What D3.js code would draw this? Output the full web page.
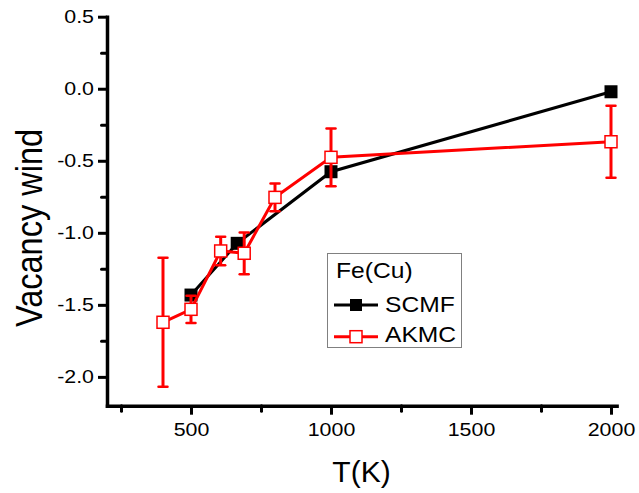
<!DOCTYPE html>
<html>
<head>
<meta charset="utf-8">
<script src="https://cdn.jsdelivr.net/npm/d3@7"></script>
<style>
  html, body { margin: 0; padding: 0; background: #fff; }
  svg { display: block; font-family: "Liberation Sans", Arial, sans-serif; }
</style>
</head>
<body>
<svg id="chart" width="639" height="493"></svg>
<script>
// SCMF results (no error bars)
const scmfT = [500, 665, 1000, 2000];
const scmfV = [-1.432, -1.073, -0.576, -0.021];

// AKMC results with symmetric error bars
const akmcT = [400, 500, 606, 690, 800, 1000, 2000];
const akmcV = [-1.621, -1.531, -1.126, -1.142, -0.754, -0.476, -0.368];
const akmcErr = [0.448, 0.095, 0.099, 0.145, 0.097, 0.2, 0.25];

const xMajor = [500, 1000, 1500, 2000];
const xMinor = [250, 750, 1250, 1750];
const yMajor = [0.5, 0.0, -0.5, -1.0, -1.5, -2.0];
const yMinor = [0.25, -0.25, -0.75, -1.25, -1.75];

const legendTitle = "Fe(Cu)";
const seriesNames = ["SCMF", "AKMC"];

const svg = d3.select("#chart");
const X0 = 107, X1 = 616.6, Y0 = 405.7, Y1 = 16.7;
const x = d3.scaleLinear().domain([200, 2020]).range([X0, X1]);
const y = d3.scaleLinear().domain([-2.2, 0.5]).range([Y0, Y1]);

const TICK_FS = 18.6, STRETCH = 1.15;
// plain hyphen for negative numbers
const yFmt = d => d3.format(".1f")(d).replace("\u2212", "-");

// minor ticks
svg.append("g").attr("transform", `translate(0,${Y0})`)
  .call(d3.axisBottom(x).tickValues(xMinor).tickSize(5.5).tickFormat(""))
  .call(g => g.select(".domain").remove())
  .call(g => g.selectAll("line").attr("stroke", "#000").attr("stroke-width", 3).attr("stroke-linecap", "round"));
svg.append("g").attr("transform", `translate(${X0},0)`)
  .call(d3.axisLeft(y).tickValues(yMinor).tickSize(5.5).tickFormat(""))
  .call(g => g.select(".domain").remove())
  .call(g => g.selectAll("line").attr("stroke", "#000").attr("stroke-width", 3).attr("stroke-linecap", "round"));

// major x axis
svg.append("g").attr("transform", `translate(0,${Y0})`)
  .call(d3.axisBottom(x).tickValues(xMajor).tickSize(9).tickSizeOuter(0).tickPadding(8).tickFormat(d3.format("d")))
  .call(g => g.select(".domain").attr("stroke", "#000").attr("stroke-width", 3.5).attr("stroke-linecap", "square"))
  .call(g => g.selectAll("line").attr("stroke", "#000").attr("stroke-width", 3))
  .call(g => g.selectAll("text").attr("font-size", TICK_FS).attr("fill", "#000")
    .attr("font-family", "Liberation Sans, Arial, sans-serif")
    .attr("transform", `scale(${STRETCH},1)`));

// major y axis
svg.append("g").attr("transform", `translate(${X0},0)`)
  .call(d3.axisLeft(y).tickValues(yMajor).tickSize(9).tickSizeOuter(0).tickPadding(4).tickFormat(yFmt))
  .call(g => g.select(".domain").attr("stroke", "#000").attr("stroke-width", 3.5).attr("stroke-linecap", "square"))
  .call(g => g.selectAll("line").attr("stroke", "#000").attr("stroke-width", 3))
  .call(g => g.selectAll("text").each(function() {
      const t = d3.select(this);
      const tx = +t.attr("x");
      t.attr("x", 0).attr("transform", `translate(${tx},0) scale(${STRETCH},1)`)
       .attr("font-size", TICK_FS).attr("fill", "#000")
       .attr("font-family", "Liberation Sans, Arial, sans-serif");
    }));

// axis titles
svg.append("text")
  .attr("transform", `translate(361.5,482)`)
  .attr("text-anchor", "middle").attr("font-size", 30).attr("fill", "#000")
  .text("T(K)");
svg.append("text")
  .attr("transform", `translate(42,228) rotate(-90) scale(1,1.15)`)
  .attr("text-anchor", "middle").attr("font-size", 32.5).attr("fill", "#000")
  .text("Vacancy wind");

const plot = svg.append("g");
const line = d3.line().x(d => x(d[0])).y(d => y(d[1]));

// SCMF series
const scmf = scmfT.map((t, i) => [t, scmfV[i]]);
plot.append("path").datum(scmf).attr("d", line)
  .attr("fill", "none").attr("stroke", "#000").attr("stroke-width", 3);
const S = 13;
plot.selectAll("rect.scmf").data(scmf).join("rect").attr("class", "scmf")
  .attr("x", d => x(d[0]) - S / 2).attr("y", d => y(d[1]) - S / 2)
  .attr("width", S).attr("height", S).attr("fill", "#000");

// AKMC series
const akmc = akmcT.map((t, i) => [t, akmcV[i], akmcErr[i]]);
plot.append("path").datum(akmc).attr("d", line)
  .attr("fill", "none").attr("stroke", "#ff0000").attr("stroke-width", 3);
const eb = plot.selectAll("g.err").data(akmc).join("g").attr("class", "err");
eb.append("line")
  .attr("x1", d => x(d[0])).attr("x2", d => x(d[0]))
  .attr("y1", d => y(d[1] + d[2])).attr("y2", d => y(d[1] - d[2]))
  .attr("stroke", "#ff0000").attr("stroke-width", 3);
[1, -1].forEach(s => {
  eb.append("line")
    .attr("x1", d => x(d[0]) - 4.5).attr("x2", d => x(d[0]) + 4.5)
    .attr("y1", d => y(d[1] + s * d[2])).attr("y2", d => y(d[1] + s * d[2]))
    .attr("stroke", "#ff0000").attr("stroke-width", 2.5).attr("stroke-linecap", "round");
});
const A = 12;
plot.selectAll("rect.akmc").data(akmc).join("rect").attr("class", "akmc")
  .attr("x", d => x(d[0]) - A / 2).attr("y", d => y(d[1]) - A / 2)
  .attr("width", A).attr("height", A)
  .attr("fill", "#fff").attr("stroke", "#ff0000").attr("stroke-width", 1.5);

// legend
const lg = svg.append("g");
lg.append("rect").attr("x", 327.5).attr("y", 253.5).attr("width", 134).attr("height", 94)
  .attr("fill", "#fff").attr("stroke", "#808080").attr("stroke-width", 1);
lg.append("text").attr("transform", "translate(336,278) scale(1.12,1)")
  .attr("font-size", 22).attr("fill", "#000").text(legendTitle);
const legendRows = [
  { name: seriesNames[0], color: "#000", fill: "#000", ly: 305, ty: 311.7 },
  { name: seriesNames[1], color: "#ff0000", fill: "#fff", ly: 336.7, ty: 341.7 }
];
legendRows.forEach(r => {
  lg.append("line").attr("x1", 334).attr("x2", 378).attr("y1", r.ly).attr("y2", r.ly)
    .attr("stroke", r.color).attr("stroke-width", 3);
  lg.append("rect").attr("x", 356 - 6).attr("y", r.ly - 6).attr("width", 12).attr("height", 12)
    .attr("fill", r.fill).attr("stroke", r.color).attr("stroke-width", r.fill === "#fff" ? 1.5 : 0);
  lg.append("text").attr("transform", `translate(385,${r.ty}) scale(1.12,1)`)
    .attr("font-size", 22).attr("fill", "#000").text(r.name);
});
</script>
</body>
</html>
